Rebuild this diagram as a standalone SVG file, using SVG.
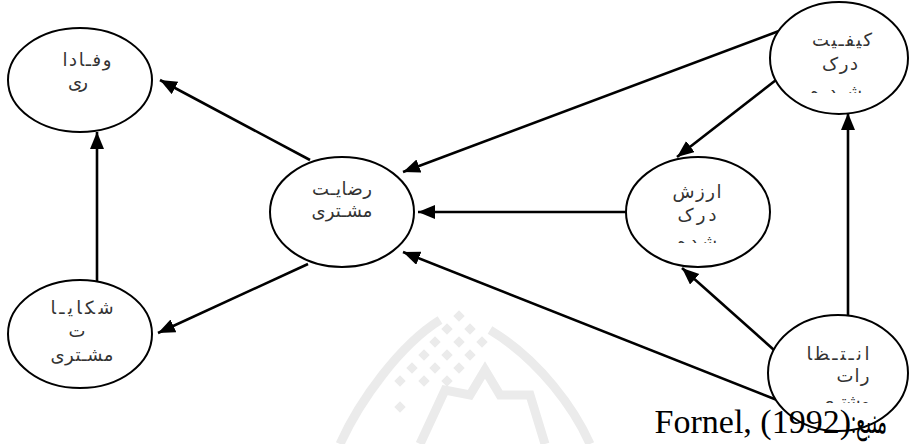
<svg xmlns="http://www.w3.org/2000/svg" width="912" height="444" viewBox="0 0 912 444">
<style>
.node ellipse{fill:#fff;stroke:#000;stroke-width:2}
.lbl{font-family:"DejaVu Sans",sans-serif;font-size:18px;fill:#333;text-anchor:middle}
.edge{stroke:#000;stroke-width:2.6;fill:none;marker-end:url(#ah)}
.wm{fill:none;stroke:#ebebeb;stroke-width:9}
.wmd{fill:#ebebeb}
.src{font-family:"Liberation Serif","DejaVu Serif",serif;font-size:34px;fill:#000}
</style>
<defs>
<marker id="ah" markerUnits="userSpaceOnUse" markerWidth="20" markerHeight="16" refX="17" refY="7" orient="auto">
<path d="M0,0 L17,7 L0,14 Z" fill="#000"/>
</marker>
<clipPath id="cv"><rect x="600" y="150" width="200" height="93"/></clipPath>
<clipPath id="cq"><rect x="760" y="0" width="152" height="93"/></clipPath>
<clipPath id="ce"><rect x="760" y="300" width="152" height="103"/></clipPath>
</defs>
<g id="watermark">
<path class="wm" d="M340,444 C360,400 400,345 440,320"/>
<path class="wm" d="M490,330 C540,360 575,410 590,444"/>
<path class="wm" d="M420,444 L445,390 L470,395 L485,370 L500,395 L530,395 L545,444"/>
<g class="wmd">
<rect x="455" y="312" width="8" height="8" transform="rotate(45 459 316)"/>
<rect x="443" y="325" width="8" height="8" transform="rotate(45 447 329)"/>
<rect x="466" y="325" width="8" height="8" transform="rotate(45 470 329)"/>
<rect x="431" y="338" width="8" height="8" transform="rotate(45 435 342)"/>
<rect x="455" y="338" width="8" height="8" transform="rotate(45 459 342)"/>
<rect x="478" y="338" width="8" height="8" transform="rotate(45 482 342)"/>
<rect x="420" y="351" width="8" height="8" transform="rotate(45 424 355)"/>
<rect x="443" y="351" width="8" height="8" transform="rotate(45 447 355)"/>
<rect x="466" y="351" width="8" height="8" transform="rotate(45 470 355)"/>
<rect x="408" y="364" width="8" height="8" transform="rotate(45 412 368)"/>
<rect x="431" y="364" width="8" height="8" transform="rotate(45 435 368)"/>
<rect x="455" y="364" width="8" height="8" transform="rotate(45 459 368)"/>
<rect x="396" y="377" width="8" height="8" transform="rotate(45 400 381)"/>
<rect x="420" y="377" width="8" height="8" transform="rotate(45 424 381)"/>
<rect x="443" y="377" width="8" height="8" transform="rotate(45 447 381)"/>
<rect x="396" y="403" width="8" height="8" transform="rotate(45 400 407)"/>
</g>
</g>
<g id="connectors">
<path class="edge" d="M310,160 L160,80"/>
<path class="edge" d="M97,282 L97,132"/>
<path class="edge" d="M308,264 L158,333"/>
<path class="edge" d="M779,31 L403,172"/>
<path class="edge" d="M776,80 L677,157"/>
<path class="edge" d="M627,212 L418,212"/>
<path class="edge" d="M777,400 L403,252"/>
<path class="edge" d="M774,350 L682,268"/>
<path class="edge" d="M848,316 L848,113"/>
</g>
<g id="n_loyalty" class="node">
<ellipse cx="80" cy="80" rx="72" ry="52"/>
<text class="lbl" x="87" y="66" textLength="49" lengthAdjust="spacing">وفـادا</text>
<text class="lbl" x="78" y="88" textLength="20" lengthAdjust="spacing">ری</text>
</g>
<g id="n_complaint" class="node">
<ellipse cx="80" cy="334" rx="72" ry="54"/>
<text class="lbl" x="82" y="314" textLength="63" lengthAdjust="spacing">شکایـا</text>
<text class="lbl" x="77" y="337">ت</text>
<text class="lbl" x="82" y="361" textLength="63" lengthAdjust="spacing">مشـتری</text>
</g>
<g id="n_satisfaction" class="node">
<ellipse cx="342" cy="212" rx="72" ry="55"/>
<text class="lbl" x="342" y="195" textLength="60" lengthAdjust="spacing">رضایـت</text>
<text class="lbl" x="342" y="217" textLength="61" lengthAdjust="spacing">مشـتری</text>
</g>
<g id="n_value" class="node">
<ellipse cx="698" cy="212" rx="72" ry="55"/>
<text class="lbl" x="697" y="198" textLength="49" lengthAdjust="spacing">ارزش</text>
<text class="lbl" x="697" y="221" textLength="39" lengthAdjust="spacing">درک</text>
<text class="lbl" x="697" y="248" textLength="40" lengthAdjust="spacing" clip-path="url(#cv)">شده</text>
</g>
<g id="n_quality" class="node">
<ellipse cx="839" cy="58" rx="69" ry="56"/>
<text class="lbl" x="842" y="46" textLength="60" lengthAdjust="spacing">کیفـیت</text>
<text class="lbl" x="840" y="70" textLength="36" lengthAdjust="spacing">درک</text>
<text class="lbl" x="836" y="98" textLength="52" lengthAdjust="spacing" clip-path="url(#cq)">شده</text>
</g>
<g id="n_expect" class="node">
<ellipse cx="838" cy="373" rx="70" ry="58"/>
<text class="lbl" x="838" y="360" textLength="63" lengthAdjust="spacing">انـتـظا</text>
<text class="lbl" x="853" y="382" textLength="33" lengthAdjust="spacing">رات</text>
<text class="lbl" x="845" y="408" textLength="50" lengthAdjust="spacing" clip-path="url(#ce)">مشتری</text>
</g>
<g id="source">
<text class="src" x="851" y="433" text-anchor="end">Fornel, (1992)</text>
<text class="src" x="887" y="433" direction="rtl" text-anchor="start" font-size="24" textLength="36" lengthAdjust="spacingAndGlyphs">منبع:</text>
</g>
</svg>
